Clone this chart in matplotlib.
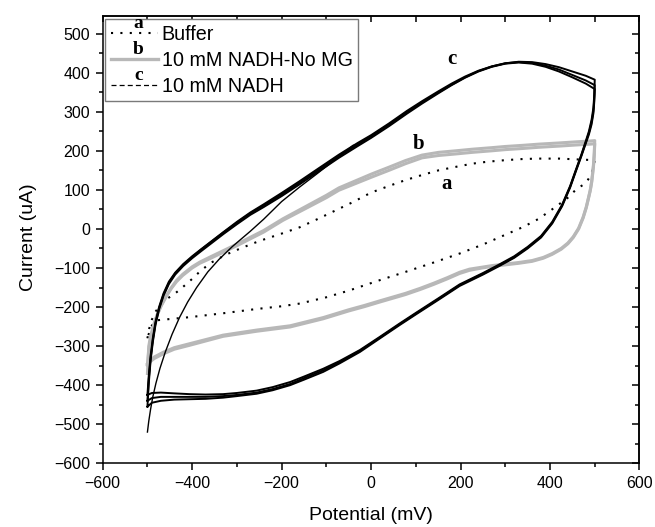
import matplotlib
matplotlib.use("Agg")
import matplotlib.pyplot as plt
from matplotlib.ticker import MultipleLocator, NullFormatter
from matplotlib.lines import Line2D

plt.rcParams['font.family'] = ['Liberation Sans', 'DejaVu Sans']

# ---- a: buffer (single cycle) ----
buffer_fwd_E = [-500, -496, -490, -482, -470, -455, -439, -420, -400, -380, -357, -323, -290, -250,
                -200, -160, -120, -80, -40, 0, 40, 77, 114, 151, 190, 226, 260, 300, 340, 375,
                420, 460, 500]
buffer_fwd_I = [-280, -255, -232, -212, -193, -178, -166, -148, -128, -106, -86, -65, -49, -31,
                -12, 4, 25, 47, 69, 93, 110, 125, 138, 150, 159, 167, 172, 176, 179, 180,
                180, 178, 176]
buffer_rev_E = [500, 497, 492, 484, 473, 460, 440, 412, 375, 340, 300, 250, 198, 140, 77, 20,
                -50, -100, -159, -200, -256, -331, -406, -443, -480, -492, -500]
buffer_rev_I = [176, 158, 140, 124, 112, 103, 80, 56, 26, 5, -15, -40, -63, -86, -110, -131,
                -158, -175, -191, -198, -205, -216, -226, -230, -234, -250, -280]

# ---- b: 10 mM NADH without MG (two cycles) ----
nomg_fwd_E = [-500, -497, -494, -489, -484, -477, -469, -458, -447, -435, -421, -400, -383, -360,
              -331, -300, -271, -240, -197, -150, -100, -72, -35, 2, 40, 77, 114, 151, 190, 226,
              270, 300, 340, 375, 420, 460, 490, 500]
nomg_fwd_I1 = [-370, -300, -281, -258, -238, -216, -196, -173, -153, -135, -119, -100, -88, -76,
               -60, -43, -26, -8, 22, 50, 80, 99, 116, 133, 150, 167, 182, 188, 192, 196,
               200, 203, 206, 209, 212, 215, 217, 218]
nomg_fwd_I2 = [-348, -310, -288, -262, -240, -217, -196, -172, -151, -132, -116, -97, -85, -72,
               -56, -39, -22, -4, 26, 55, 86, 105, 123, 141, 158, 175, 189, 196, 200, 204,
               208, 211, 214, 217, 220, 223, 225, 226]
nomg_rev_E = [500, 499.5, 499, 498, 497, 495, 493, 490, 486, 481, 474, 464, 452, 440, 425, 405,
              385, 360, 330, 300, 270, 248, 220, 198, 170, 140, 110, 77, 50, 20, -15, -50, -107,
              -181, -256, -331, -406, -440, -465, -485, -495, -500]
nomg_rev_I1 = [218, 205, 190, 172, 158, 137, 118, 98, 78, 54, 28, 0, -22, -38, -52, -65,
               -75, -83, -88, -92, -96, -100, -106, -114, -128, -142, -155, -168, -177, -187, -199,
               -210, -230, -251, -262, -275, -298, -308, -320, -332, -341, -348]
nomg_rev_I2 = [226, 212, 196, 178, 163, 141, 121, 100, 80, 56, 30, 2, -20, -36, -50, -63,
               -73, -81, -86, -90, -94, -98, -103, -111, -125, -139, -152, -165, -174, -184, -196,
               -207, -227, -248, -259, -272, -294, -304, -316, -328, -338, -345]

# ---- c: 10 mM NADH (initial sweep + repeated cycles) ----
nadh_init_E = [-500, -497, -493, -488, -481, -472, -460, -445, -428, -410, -390, -365, -340, -310,
               -270, -240, -200, -160, -120, -80, -40]
nadh_init_I = [-520, -492, -462, -430, -395, -357, -315, -270, -226, -187, -150, -110, -78, -45,
               -6, 25, 70, 107, 142, 178, 214]
nadh_fwd_E = [-500, -497, -493, -488, -482, -474, -464, -452, -438, -420, -400, -380, -355, -330,
              -300, -270, -240, -200, -160, -120, -72, -30, 0, 40, 80, 114, 150, 180, 210, 240,
              270, 300, 330, 360, 390, 420, 450, 480, 500]
nadh_fwd_I1 = [-425, -375, -325, -280, -238, -200, -165, -135, -112, -90, -70, -52, -30, -8,
               18, 42, 63, 92, 122, 153, 190, 220, 240, 270, 302, 327, 352, 372, 390, 405,
               416, 424, 428, 427, 422, 414, 403, 392, 382]
nadh_fwd_I2 = [-440, -385, -332, -285, -242, -203, -168, -138, -114, -92, -72, -53, -31, -9,
               16, 40, 60, 88, 118, 149, 186, 216, 237, 267, 299, 324, 349, 369, 388, 404,
               416, 424, 427, 425, 418, 408, 394, 380, 368]
nadh_fwd_I3 = [-455, -395, -338, -290, -246, -206, -171, -141, -117, -95, -75, -57, -35, -13,
               12, 36, 56, 84, 114, 145, 182, 212, 233, 263, 295, 321, 347, 368, 387, 403,
               415, 423, 426, 423, 415, 403, 388, 372, 358]
nadh_rev_E = [500, 499, 497, 493, 487, 480, 470, 458, 445, 427, 405, 380, 350, 320, 285, 250,
              198, 150, 100, 64, 20, -25, -70, -107, -150, -181, -220, -256, -300, -331, -370,
              -406, -440, -470, -490, -500]
nadh_rev_I1 = [382, 345, 310, 280, 250, 225, 190, 152, 110, 62, 18, -18, -46, -70, -92, -113,
               -142, -178, -215, -242, -276, -310, -338, -358, -378, -392, -405, -414, -420, -423,
               -424, -423, -421, -419, -420, -425]
nadh_rev_I2 = [368, 335, 302, 274, 246, 222, 188, 150, 108, 60, 16, -20, -48, -72, -94, -115,
               -144, -180, -217, -244, -278, -312, -341, -362, -382, -397, -410, -419, -425, -428,
               -430, -430, -430, -430, -433, -440]
nadh_rev_I3 = [358, 326, 296, 268, 242, 219, 186, 148, 106, 58, 14, -22, -50, -74, -96, -117,
               -146, -182, -219, -246, -280, -315, -344, -366, -386, -400, -413, -422, -428, -432,
               -435, -436, -437, -440, -445, -455]

legend_labels = ['Buffer', '10 mM NADH-No MG', '10 mM NADH']
legend_tags = ['a', 'b', 'c']
# curve tags placed next to each voltammogram (potential, current)
tag_pos = {'a': (168, 116), 'b': (107, 218), 'c': (180, 436)}

GRAY = '#b8b8b8'
DOT = (0, (1.0, 3.5))

fig = plt.figure(figsize=(6.55, 5.27), dpi=100)
ax = fig.add_axes([0.1568, 0.1209, 0.8195, 0.8487])

# buffer
ax.plot(buffer_fwd_E + buffer_rev_E, buffer_fwd_I + buffer_rev_I,
        color='black', lw=1.5, ls=DOT, zorder=2)

# NADH without MG
for fwd_I, rev_I in [(nomg_fwd_I1, nomg_rev_I1), (nomg_fwd_I2, nomg_rev_I2)]:
    ax.plot(nomg_fwd_E + nomg_rev_E, fwd_I + rev_I, color=GRAY, lw=2.2,
            solid_joinstyle='round', zorder=3)

# NADH
ax.plot(nadh_init_E, nadh_init_I, color='black', lw=1.0, zorder=4)
for fwd_I, rev_I in [(nadh_fwd_I1, nadh_rev_I1), (nadh_fwd_I2, nadh_rev_I2),
                     (nadh_fwd_I3, nadh_rev_I3)]:
    ax.plot(nadh_fwd_E + nadh_rev_E, fwd_I + rev_I, color='black', lw=1.4,
            solid_joinstyle='round', zorder=4)

for tag, (e, i) in tag_pos.items():
    ax.text(e, i, tag, fontfamily='Liberation Serif', fontweight='bold', fontsize=15,
            ha='center', va='center', zorder=6)

ax.set_xlim(-600, 600)
ax.set_ylim(-600, 545)
ax.xaxis.set_major_locator(MultipleLocator(200))
ax.xaxis.set_minor_locator(MultipleLocator(100))
ax.yaxis.set_major_locator(MultipleLocator(100))
ax.yaxis.set_minor_locator(MultipleLocator(50))
ax.tick_params(which='major', direction='out', length=5, width=1.1, labelsize=11.5)
ax.tick_params(axis='x', which='major', pad=4.5)
ax.tick_params(axis='y', which='major', pad=4)
ax.tick_params(which='minor', direction='out', length=2.6, width=1.1)
for sp in ax.spines.values():
    sp.set_linewidth(1.1)

# mirrored inward ticks on the top and right edges
top = ax.secondary_xaxis('top')
top.xaxis.set_major_locator(MultipleLocator(200))
top.xaxis.set_minor_locator(MultipleLocator(100))
top.xaxis.set_major_formatter(NullFormatter())
top.tick_params(which='both', direction='in', length=4.5, width=1.1)
right = ax.secondary_yaxis('right')
right.yaxis.set_major_locator(MultipleLocator(100))
right.yaxis.set_minor_locator(MultipleLocator(50))
right.yaxis.set_major_formatter(NullFormatter())
right.tick_params(which='major', direction='in', length=5, width=1.1)
right.tick_params(which='minor', direction='in', length=3, width=1.1)
for s in list(top.spines.values()) + list(right.spines.values()):
    s.set_linewidth(1.1)

ax.set_xlabel('Potential (mV)', fontsize=14)
ax.set_ylabel('Current (uA)', fontsize=14)
ax.xaxis.label.set_va('center')
ax.yaxis.label.set_va('center')
ax.xaxis.set_label_coords(0.5, -0.117)
ax.yaxis.set_label_coords(-0.138, 0.505)

handles = [Line2D([], [], color='black', lw=1.5, ls=DOT),
           Line2D([], [], color=GRAY, lw=2.4),
           Line2D([], [], color='black', lw=0.9, ls=(0, (4, 2.5)))]
leg = ax.legend(handles, legend_labels, loc='upper left', bbox_to_anchor=(0.0043, 0.9933),
                borderaxespad=0, fontsize=14.2, handlelength=2.4, handletextpad=0.2,
                labelspacing=0.36, borderpad=0.28, fancybox=False, framealpha=1,
                edgecolor='#7a7a7a')
leg.get_frame().set_linewidth(1.0)
leg.set_zorder(7)

fig.canvas.draw()
renderer = fig.canvas.get_renderer()
inv = fig.transFigure.inverted()
for line, tag in zip(leg.get_lines(), legend_tags):
    bb = line.get_window_extent(renderer)
    xc = (bb.x0 + bb.x1) / 2 + 4
    yb = (bb.y0 + bb.y1) / 2 + 1
    fx, fy = inv.transform((xc, yb))
    fig.text(fx, fy, tag, fontfamily='Liberation Serif', fontweight='bold', fontsize=14,
             ha='center', va='bottom', zorder=8)

fig.savefig('out.png', dpi=100, facecolor='white')
